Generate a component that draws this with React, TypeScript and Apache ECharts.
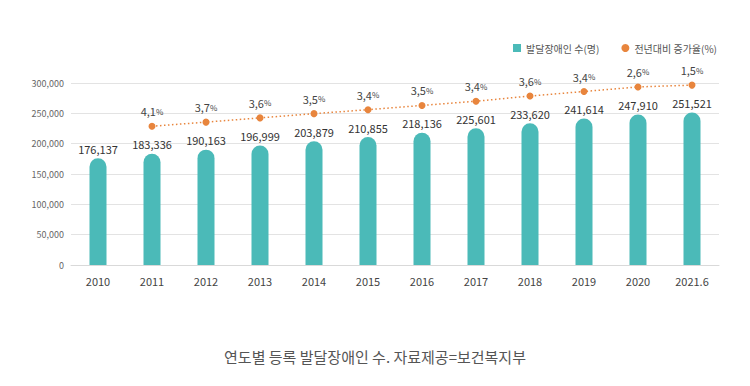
import React, { useEffect, useRef } from "react";
import * as echarts from "echarts";

const categories = ["2010", "2011", "2012", "2013", "2014", "2015", "2016", "2017", "2018", "2019", "2020", "2021.6"];
const registered = [176137, 183336, 190163, 196999, 203879, 210855, 218136, 225601, 233620, 241614, 247910, 251521];
const pctLabels = ["", "4,1", "3,7", "3,6", "3,5", "3,4", "3,5", "3,4", "3,6", "3,4", "2,6", "1,5"];
// vertical position of the trend dots in left-axis units
const trendPos = [null, 228700, 235500, 242500, 249500, 256000, 263000, 270000, 278500, 286000, 293500, 296500];
const yTicks = [0, 50000, 100000, 150000, 200000, 250000, 300000];

const FONT = "'Noto Sans CJK KR', 'Noto Sans', sans-serif";

export default function App() {
  const ref = useRef<HTMLDivElement>(null);
  useEffect(() => {
    document.body.style.margin = "0";
    const chart = echarts.init(ref.current!, null, { renderer: "svg" });
    chart.setOption({
      animation: false,
      backgroundColor: "#ffffff",
      textStyle: { fontFamily: FONT },
      title: {
        text: "연도별 등록 발달장애인 수. 자료제공=보건복지부",
        left: "center",
        top: 344,
        textStyle: { fontSize: 15, fontWeight: "normal", color: "#555", fontFamily: FONT },
      },
      legend: {
        top: 38,
        right: 28,
        itemGap: 22,
        itemWidth: 8,
        itemHeight: 8,
        textStyle: { fontSize: 10, color: "#555", fontFamily: FONT },
        data: [
          { name: "발달장애인 수(명)", icon: "rect" },
          { name: "전년대비 증가율(%)", icon: "circle" },
        ],
      },
      grid: { left: 71, right: 31, top: 83, bottom: 121 },
      xAxis: {
        type: "category",
        data: categories,
        axisLine: { lineStyle: { color: "#d9d9d9" } },
        axisTick: { show: false },
        axisLabel: { color: "#444", fontSize: 11, margin: 10, fontFamily: FONT },
      },
      yAxis: {
        type: "value",
        min: yTicks[0],
        max: yTicks[yTicks.length - 1],
        interval: 50000,
        axisLine: { show: false },
        axisTick: { show: false },
        splitLine: { lineStyle: { color: "#e3e3e3" } },
        axisLabel: {
          color: "#666",
          fontSize: 9,
          margin: 7,
          fontFamily: FONT,
          formatter: (v: number) => v.toLocaleString("en-US"),
        },
      },
      series: [
        {
          name: "발달장애인 수(명)",
          type: "bar",
          data: registered,
          barWidth: 17,
          itemStyle: { color: "#4bbab8", borderRadius: [8.5, 8.5, 0, 0] },
          label: {
            show: true,
            position: "top",
            distance: 4,
            fontSize: 11,
            color: "#333",
            fontFamily: FONT,
            formatter: (p: any) => Number(p.value).toLocaleString("en-US"),
          },
        },
        {
          name: "전년대비 증가율(%)",
          type: "line",
          data: trendPos,
          symbol: "circle",
          symbolSize: 7,
          itemStyle: { color: "#e8853d" },
          lineStyle: { color: "#e8853d", width: 1.5, type: [1.5, 2.5] },
          label: {
            show: true,
            position: "top",
            distance: 6,
            formatter: (p: any) => `{a|${pctLabels[p.dataIndex]}}{b|%}`,
            rich: {
              a: { fontSize: 11, color: "#444", fontFamily: FONT },
              b: { fontSize: 8, color: "#444", fontFamily: FONT },
            },
          },
        },
      ],
    });
    return () => chart.dispose();
  }, []);
  return <div ref={ref} style={{ width: 750, height: 386 }} />;
}
